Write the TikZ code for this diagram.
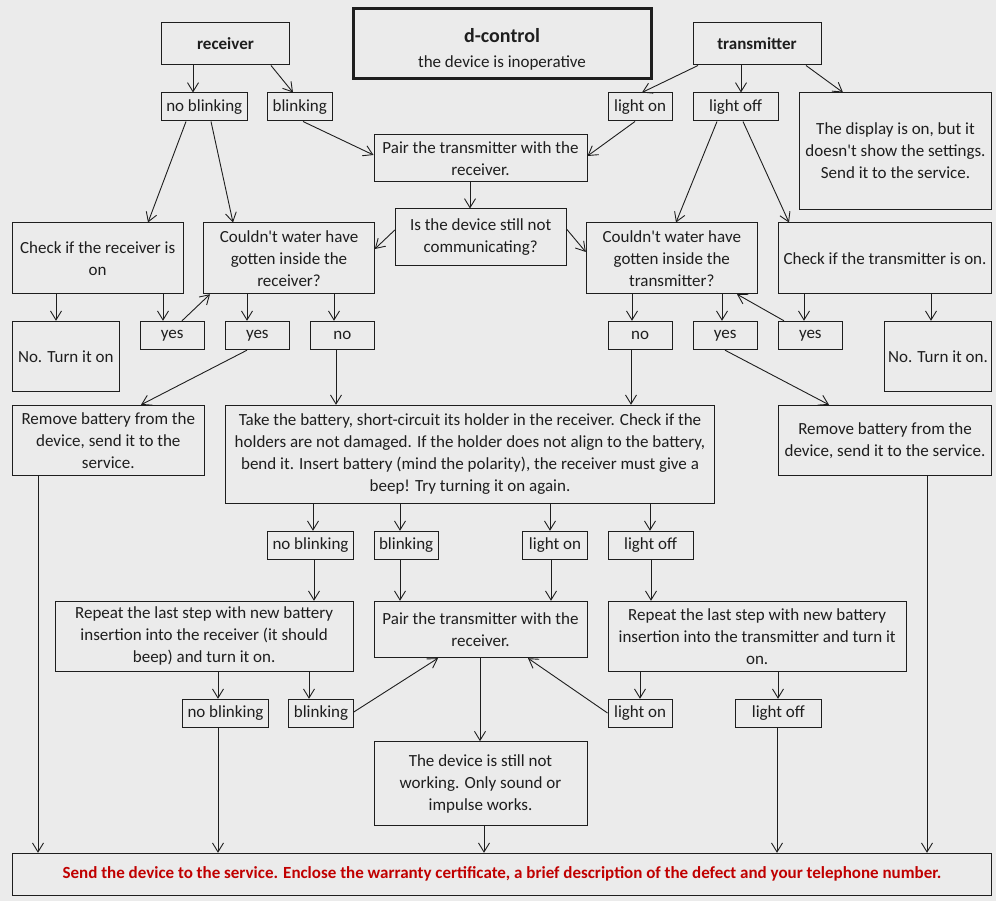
\documentclass[tikz,border=0pt]{standalone}
\usepackage{fontspec}
\setmainfont{Carlito}
\usetikzlibrary{arrows.meta,calc}
\definecolor{bgc}{HTML}{EBEBEB}
\definecolor{ink}{HTML}{1E1E1E}
\definecolor{warn}{HTML}{C00000}
\tikzset{
  box/.style={draw=ink, line width=1pt, align=center, inner sep=0pt, text=ink,
    font=\fontsize{17}{22}\selectfont},
  arr/.style={draw=ink, line width=0.9pt, -{Straight Barb[length=9pt,width=11pt,line width=0.9pt]}},
  ln/.style={draw=ink, line width=0.9pt}
}
\newcommand{\apo}{\textquotesingle}
\begin{document}
\begin{tikzpicture}[x=1pt,y=-1pt]
\fill[bgc] (0,0) rectangle (996,901);
% title
\node[box, line width=3pt, minimum width=298, minimum height=70] (title) at (502,44)
  {\fontsize{20}{26}\selectfont\bfseries\rule{0pt}{25pt}d-control\\[3pt]\fontsize{17}{26}\selectfont the device is inoperative};
\node[box, minimum width=128, minimum height=42] (recv) at (225.5,44) {\bfseries receiver};
\node[box, minimum width=128, minimum height=42] (trans) at (757,44) {\bfseries transmitter};
% row 2
\node[box, minimum width=85.5, minimum height=28] (nb1) at (204.25,107) {no blinking};
\node[box, minimum width=64.5, minimum height=28] (b1) at (299.75,107) {blinking};
\node[box, minimum width=64.3, minimum height=28] (lon1) at (640.15,107) {light on};
\node[box, minimum width=85.3, minimum height=28] (loff1) at (735.65,107) {light off};
\node[box, minimum width=192.4, minimum height=116.3] (disp) at (895.5,151.15)
  {The display is on, but it\\doesn\apo t show the settings.\\Send it to the service.};
\node[box, minimum width=213, minimum height=46.7] (pair1) at (480.5,158.35)
  {Pair the transmitter with the\\receiver.};
\node[box, minimum width=170.7, minimum height=56.3] (isdev) at (480.65,237.15)
  {Is the device still not\\communicating?};
% row 3
\node[box, minimum width=170.7, minimum height=70.7] (chkR) at (97.65,258.35)
  {Check if the receiver is\\on};
\node[box, minimum width=170.6, minimum height=70.7] (watR) at (289,258.35)
  {Couldn\apo t water have\\gotten inside the\\receiver?};
\node[box, minimum width=171, minimum height=70.7] (watT) at (671.8,258.35)
  {Couldn\apo t water have\\gotten inside the\\transmitter?};
\node[box, minimum width=213.4, minimum height=70.7] (chkT) at (885,258.35)
  {Check if the transmitter is on.};
% row 4
\node[box, minimum width=107, minimum height=70] (noR) at (65.8,356.3) {No. Turn it on};
\node[box, minimum width=64.3, minimum height=28.4] (yes1) at (172.15,335.5) {yes};
\node[box, minimum width=64.3, minimum height=28.4] (yes2) at (257.3,335.5) {yes};
\node[box, minimum width=64.3, minimum height=28.4] (no1) at (342.3,335.5) {no};
\node[box, minimum width=64.3, minimum height=28.4] (no2) at (640.15,335.5) {no};
\node[box, minimum width=64.3, minimum height=28.4] (yes3) at (725.15,335.5) {yes};
\node[box, minimum width=64.3, minimum height=28.4] (yes4) at (810.3,335.5) {yes};
\node[box, minimum width=107.4, minimum height=70] (noT) at (938,356.3) {No. Turn it on.};
% row 5
\node[box, minimum width=192, minimum height=70] (remL) at (108.3,440.3)
  {Remove battery from the\\device, send it to the\\service.};
\node[box, minimum width=489.4, minimum height=98] (take) at (470,454.3)
  {Take the battery, short-circuit its holder in the receiver. Check if the\\holders are not damaged. If the holder does not align to the battery,\\bend it. Insert battery (mind the polarity), the receiver must give a\\beep! Try turning it on again.};
\node[box, minimum width=213.4, minimum height=70] (remR) at (885,440.3)
  {Remove battery from the\\device, send it to the service.};
% row 6
\node[box, minimum width=85.6, minimum height=28] (nb2) at (310.5,545.3) {no blinking};
\node[box, minimum width=64.3, minimum height=28] (b2) at (406.15,545.3) {blinking};
\node[box, minimum width=64.6, minimum height=28] (lon2) at (555,545.3) {light on};
\node[box, minimum width=85.3, minimum height=28] (loff2) at (650.65,545.3) {light off};
% row 7
\node[box, minimum width=298.3, minimum height=70] (repL) at (204.15,636.3)
  {Repeat the last step with new battery\\insertion into the receiver (it should\\beep) and turn it on.};
\node[box, minimum width=213, minimum height=56.4] (pair2) at (480.5,629.5)
  {Pair the transmitter with the\\receiver.};
\node[box, minimum width=298.3, minimum height=70] (repR) at (757.15,636.3)
  {Repeat the last step with new battery\\insertion into the transmitter and turn it\\on.};
% row 8
\node[box, minimum width=85.6, minimum height=28] (nb3) at (225.5,713.3) {no blinking};
\node[box, minimum width=64.6, minimum height=28] (b3) at (321,713.3) {blinking};
\node[box, minimum width=64.3, minimum height=28] (lon3) at (640.15,713.3) {light on};
\node[box, minimum width=85.3, minimum height=28] (loff3) at (778.35,713.3) {light off};
\node[box, minimum width=213, minimum height=84] (still) at (480.5,783.7)
  {The device is still not\\working. Only sound or\\impulse works.};
% bottom
\node[box, minimum width=979.4, minimum height=42, text=warn] (send) at (502,874.3)
  {\bfseries Send the device to the service. Enclose the warranty certificate, a brief description of the defect and your telephone number.};
% connectors
\draw[arr] (recv.south -| 193,0) -- (nb1.north -| 193,0);
\draw[arr] (recv.south -| 271,0) -- (b1.north -| 293,0);
\draw[arr] (b1.south -| 303,0) -- (pair1.west |- 0,155);
\draw[arr] (lon1.south -| 635,0) -- (pair1.east |- 0,156);
\draw[arr] (pair1.south -| 470,0) -- (isdev.north -| 470,0);
\draw[arr] (isdev.west |- 0,230) -- (watR.east |- 0,249);
\draw[arr] (isdev.east |- 0,229) -- (watT.west |- 0,252);
\draw[arr] (nb1.south -| 186,0) -- (chkR.north -| 148,0);
\draw[arr] (nb1.south -| 211,0) -- (watR.north -| 233,0);
\draw[arr] (trans.south -| 698,0) -- (lon1.north -| 642,0);
\draw[arr] (trans.south -| 741,0) -- (loff1.north -| 741,0);
\draw[arr] (trans.south -| 806,0) -- (disp.north -| 843,0);
\draw[arr] (loff1.south -| 717,0) -- (watT.north -| 676,0);
\draw[arr] (loff1.south -| 743,0) -- (chkT.north -| 789,0);
\draw[arr] (chkR.south -| 56,0) -- (noR.north -| 56,0);
\draw[arr] (chkR.south -| 163,0) -- (yes1.north -| 163,0);
\draw[arr] (yes1.north -| 182,0) -- (watR.south -| 210,0);
\draw[arr] (watR.south -| 247,0) -- (yes2.north -| 247,0);
\draw[arr] (watR.south -| 334,0) -- (no1.north -| 334,0);
\draw[arr] (yes2.south -| 247,0) -- (remL.north -| 141,0);
\draw[arr] (no1.south -| 336,0) -- (take.north -| 336,0);
\draw[arr] (watT.south -| 632,0) -- (no2.north -| 632,0);
\draw[arr] (watT.south -| 722,0) -- (yes3.north -| 722,0);
\draw[arr] (yes4.north -| 784,0) -- (watT.south -| 737,0);
\draw[arr] (chkT.south -| 804,0) -- (yes4.north -| 804,0);
\draw[arr] (chkT.south -| 931,0) -- (noT.north -| 931,0);
\draw[arr] (no2.south -| 631,0) -- (take.north -| 631,0);
\draw[arr] (yes3.south -| 725,0) -- (remR.north -| 829,0);
\draw[arr] (take.south -| 313,0) -- (nb2.north -| 313,0);
\draw[arr] (take.south -| 400,0) -- (b2.north -| 400,0);
\draw[arr] (take.south -| 550,0) -- (lon2.north -| 550,0);
\draw[arr] (take.south -| 650,0) -- (loff2.north -| 650,0);
\draw[arr] (nb2.south -| 314,0) -- (repL.north -| 314,0);
\draw[arr] (b2.south -| 400,0) -- (pair2.north -| 400,0);
\draw[arr] (lon2.south -| 551,0) -- (pair2.north -| 551,0);
\draw[arr] (loff2.south -| 651,0) -- (repR.north -| 651,0);
\draw[arr] (repL.south -| 218,0) -- (nb3.north -| 218,0);
\draw[arr] (repL.south -| 309,0) -- (b3.north -| 309,0);
\draw[arr] (b3.east |- 0,712) -- (pair2.south -| 438,0);
\draw[arr] (lon3.west |- 0,713) -- (pair2.south -| 528,0);
\draw[arr] (pair2.south -| 480,0) -- (still.north -| 480,0);
\draw[arr] (repR.south -| 640,0) -- (lon3.north -| 640,0);
\draw[arr] (repR.south -| 778,0) -- (loff3.north -| 778,0);
\draw[arr] (remL.south -| 38,0) -- (send.north -| 38,0);
\draw[arr] (nb3.south -| 218,0) -- (send.north -| 218,0);
\draw[arr] (still.south -| 484,0) -- (send.north -| 484,0);
\draw[arr] (loff3.south -| 777,0) -- (send.north -| 777,0);
\draw[arr] (remR.south -| 927,0) -- (send.north -| 927,0);
\end{tikzpicture}
\end{document}
